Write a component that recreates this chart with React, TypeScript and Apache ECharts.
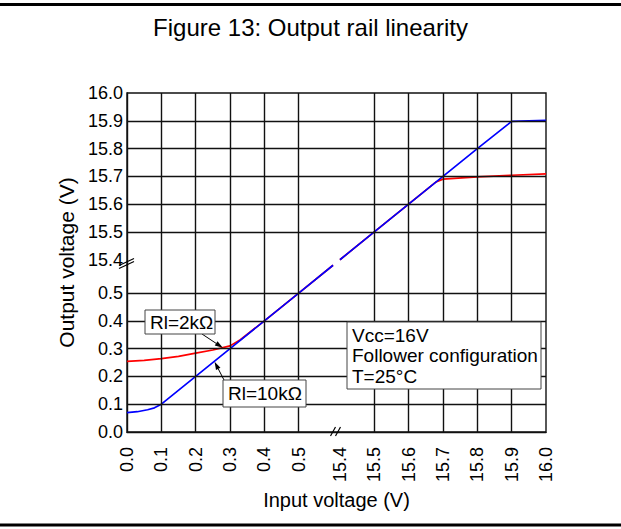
import React, { useEffect, useRef } from "react";
import * as echarts from "echarts";

const FONT = "'Liberation Sans', Arial, sans-serif";

// Tick labels (real voltages) on both broken axes
const tickValues = [0.0, 0.1, 0.2, 0.3, 0.4, 0.5, 15.4, 15.5, 15.6, 15.7, 15.8, 15.9, 16.0];
const tickLabels = ["0.0", "0.1", "0.2", "0.3", "0.4", "0.5", "15.4", "15.5", "15.6", "15.7", "15.8", "15.9", "16.0"];
// Grid lines (interior)
const gridValues = [0.1, 0.2, 0.3, 0.4, 0.5, 15.5, 15.6, 15.7, 15.8, 15.9];

// Rl = 2kΩ (red)
const redLowX = [0, 0.05, 0.1, 0.15, 0.2, 0.25, 0.3, 0.33, 0.4, 0.5, 0.6];
const redLowY = [0.254, 0.258, 0.264, 0.272, 0.284, 0.295, 0.31, 0.332, 0.4, 0.5, 0.6];
const redHighX = [15.4, 15.5, 15.6, 15.68, 15.7, 15.8, 15.9, 16.0];
const redHighY = [15.4, 15.5, 15.6, 15.68, 15.69, 15.698, 15.704, 15.709];

// Rl = 10kΩ (blue)
const blueLowX = [0, 0.03, 0.06, 0.08, 0.1, 0.2, 0.3, 0.4, 0.5, 0.6];
const blueLowY = [0.07, 0.073, 0.08, 0.087, 0.1, 0.2, 0.3, 0.4, 0.5, 0.6];
const blueHighX = [15.4, 15.5, 15.6, 15.7, 15.8, 15.89, 15.9, 16.0];
const blueHighY = [15.4, 15.5, 15.6, 15.7, 15.8, 15.888, 15.898, 15.902];

// broken-axis mapping: 0..0.6 -> 0..6, gap, 15.4..16.0 -> 6.2..12.2
const BREAK = 0.2;
const toU = (v: number) => (v <= 1 ? v * 10 : 6 + BREAK + (v - 15.4) * 10);
const AXIS_MAX = toU(16.0);
const BREAK_U = 6 + BREAK / 2;

const labelFor = (u: number) => {
  for (let i = 0; i < tickValues.length; i++) {
    if (Math.abs(toU(tickValues[i]) - u) < 1e-6) return tickLabels[i];
  }
  return "";
};

const build = (lx: number[], ly: number[], hx: number[], hy: number[]) => {
  const d: any[] = lx.map((x, i) => [toU(x), toU(ly[i])]);
  d.push(["-", "-"]);
  hx.forEach((x, i) => d.push([toU(x), toU(hy[i])]));
  return d;
};

export default function App() {
  const ref = useRef<HTMLDivElement>(null);
  useEffect(() => {
    if (!ref.current) return;
    const chart = echarts.init(ref.current, undefined, { renderer: "svg" });
    const gridColor = "#111";
    const ticksU = tickValues.map(toU);
    const option: any = {
      animation: false,
      backgroundColor: "#fff",
      title: {
        text: "Figure 13: Output rail linearity",
        left: "center",
        top: 10,
        textStyle: { fontFamily: FONT, fontSize: 24, fontWeight: "normal", color: "#000" },
      },
      grid: {
        left: 127,
        right: 75,
        top: 93,
        bottom: 97,
        show: true,
        borderColor: gridColor,
        borderWidth: 1.4,
        backgroundColor: "transparent",
      },
      xAxis: {
        type: "value",
        min: 0,
        max: AXIS_MAX,
        name: "Input voltage (V)",
        nameLocation: "middle",
        nameGap: 56,
        nameTextStyle: { fontFamily: FONT, fontSize: 20, color: "#000" },
        axisLine: { show: true, lineStyle: { color: gridColor, width: 1.4 } },
        axisTick: { show: false },
        splitLine: { show: false },
        axisLabel: {
          customValues: ticksU,
          rotate: 90,
          margin: 15,
          fontFamily: FONT,
          fontSize: 18,
          color: "#000",
          formatter: (v: number) => labelFor(v),
        },
      },
      yAxis: {
        type: "value",
        min: 0,
        max: AXIS_MAX,
        name: "Output voltage (V)",
        nameLocation: "middle",
        nameGap: 46,
        nameTextStyle: { fontFamily: FONT, fontSize: 21, color: "#000" },
        axisLine: { show: true, lineStyle: { color: gridColor, width: 1.4 } },
        axisTick: { show: false },
        splitLine: { show: false },
        axisLabel: {
          customValues: ticksU,
          margin: 4,
          fontFamily: FONT,
          fontSize: 18,
          color: "#000",
          formatter: (v: number) => labelFor(v),
        },
      },
      series: [
        {
          type: "line",
          data: [],
          z: 1,
          silent: true,
          markLine: {
            silent: true,
            symbol: ["none", "none"],
            label: { show: false },
            lineStyle: { color: gridColor, width: 1.4, type: "solid" },
            emphasis: { disabled: true },
            data: [
              ...gridValues.map((v) => ({ xAxis: toU(v) })),
              ...gridValues.map((v) => ({ yAxis: toU(v) })),
            ],
          },
        },
        {
          name: "Rl=2kΩ",
          type: "line",
          z: 3,
          showSymbol: false,
          smooth: false,
          connectNulls: false,
          lineStyle: { color: "#ff0000", width: 1.7 },
          data: build(redLowX, redLowY, redHighX, redHighY),
        },
        {
          name: "Rl=10kΩ",
          type: "line",
          z: 4,
          showSymbol: false,
          smooth: false,
          connectNulls: false,
          lineStyle: { color: "#0000ff", width: 1.7 },
          data: build(blueLowX, blueLowY, blueHighX, blueHighY),
        },
      ],
    };
    chart.setOption(option);

    const px = (u: number, w: number) => chart.convertToPixel({ gridIndex: 0 }, [u, w]) as number[];
    const [bx, by0] = px(BREAK_U, 0);
    const [bx0, by] = px(0, BREAK_U);

    const arrow = (from: number[], to: number[]) => {
      const dx = to[0] - from[0];
      const dy = to[1] - from[1];
      const len = Math.hypot(dx, dy);
      const ux = dx / len;
      const uy = dy / len;
      const L = 8;
      const W = 2.5;
      const bxp = to[0] - ux * L;
      const byp = to[1] - uy * L;
      return [
        {
          type: "line",
          shape: { x1: from[0], y1: from[1], x2: bxp, y2: byp },
          style: { stroke: "#000", lineWidth: 1 },
          z: 20,
        },
        {
          type: "polygon",
          shape: {
            points: [
              [to[0], to[1]],
              [bxp - uy * W, byp + ux * W],
              [bxp + uy * W, byp - ux * W],
            ],
          },
          style: { fill: "#000" },
          z: 20,
        },
      ];
    };

    const redTip = px(toU(0.279), toU(0.303));
    const blueTip = px(toU(0.255), toU(0.253));

    const textBox = (x: number, y: number, w: number, h: number, lines: string[], lh: number, fs: number) => [
      {
        type: "rect",
        shape: { x, y, width: w, height: h },
        style: { fill: "#fff", stroke: "#444", lineWidth: 1 },
        z: 30,
      },
      ...lines.map((t, i) => ({
        type: "text",
        x: x + 5,
        y: y + h / 2 + (i - (lines.length - 1) / 2) * lh,
        style: { text: t, fill: "#000", font: `${fs}px ${FONT}`, textVerticalAlign: "middle", textAlign: "left" },
        z: 31,
      })),
    ];

    chart.setOption({
      graphic: [
        { type: "line", shape: { x1: 0, y1: 4.5, x2: 621, y2: 4.5 }, style: { stroke: "#000", lineWidth: 3 } },
        { type: "line", shape: { x1: 0, y1: 525, x2: 621, y2: 525 }, style: { stroke: "#000", lineWidth: 3 } },
        // x-axis break marks
        { type: "line", shape: { x1: bx - 6, y1: by0 + 4, x2: bx - 1, y2: by0 - 5 }, style: { stroke: "#000", lineWidth: 1.2 }, z: 25 },
        { type: "line", shape: { x1: bx - 1, y1: by0 + 4, x2: bx + 4, y2: by0 - 5 }, style: { stroke: "#000", lineWidth: 1.2 }, z: 25 },
        // y-axis break marks
        { type: "line", shape: { x1: bx0 - 8, y1: by + 3, x2: bx0 + 7, y2: by - 4 }, style: { stroke: "#000", lineWidth: 1.2 }, z: 25 },
        { type: "line", shape: { x1: bx0 - 8, y1: by + 6, x2: bx0 + 7, y2: by - 1 }, style: { stroke: "#000", lineWidth: 1.2 }, z: 25 },
        ...arrow([202, 334], redTip),
        ...arrow([224, 380], blueTip),
        ...textBox(145, 310, 70, 24, ["Rl=2kΩ"], 20, 19),
        ...textBox(223, 380, 83, 27, ["Rl=10kΩ"], 20, 19),
        ...textBox(347, 322, 194, 67, ["Vcc=16V", "Follower configuration", "T=25°C"], 20.5, 19),
      ],
    });

    return () => chart.dispose();
  }, []);
  return (
    <div
      ref={ref}
      style={{ position: "absolute", left: 0, top: 0, width: 621, height: 529, background: "#fff" }}
    />
  );
}
